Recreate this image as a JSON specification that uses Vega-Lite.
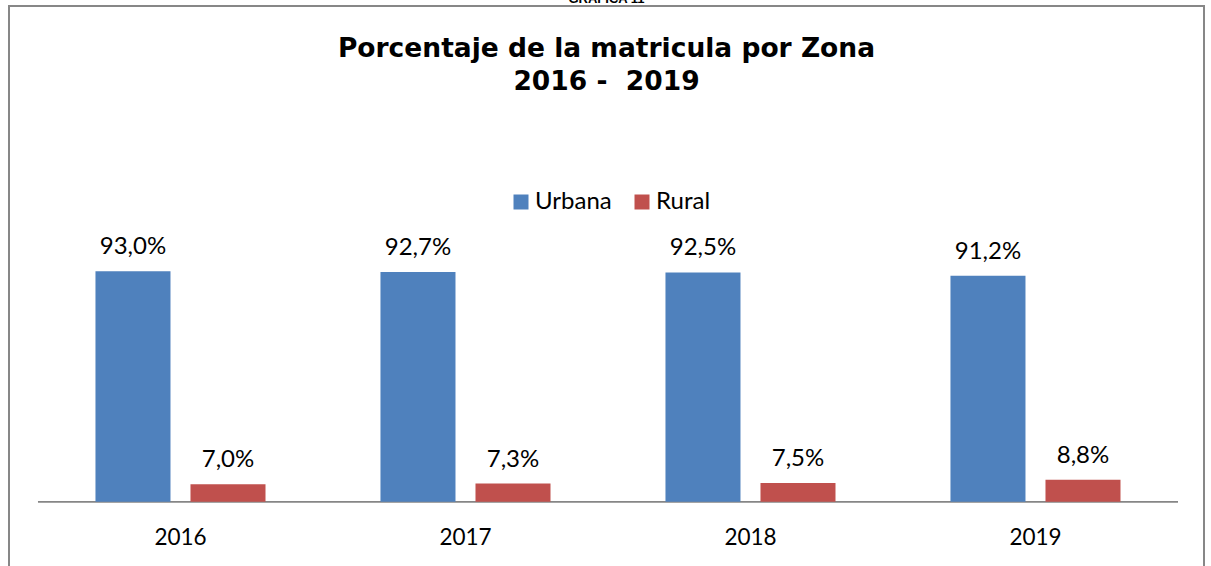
{
  "$schema": "https://vega.github.io/schema/vega-lite/v6.json",
  "width": 1195,
  "height": 570,
  "autosize": {"type": "none"},
  "padding": {"left": 9, "top": 6, "right": 7, "bottom": 0},
  "background": "white",
  "config": {
    "view": {"stroke": "#878787", "strokeWidth": 2},
    "font": "Lato",
    "locale": {"number": {"decimal": ",", "thousands": ".", "grouping": [3], "currency": ["", " €"]}}
  },
  "title": {
    "text": "GRAFICA 11",
    "subtitle": ["Porcentaje de la matricula por Zona", "2016 - \u00a02019"],
    "anchor": "middle",
    "frame": "group",
    "font": "Liberation Sans",
    "fontSize": 13,
    "fontWeight": "bold",
    "color": "black",
    "subtitleFont": "DejaVu Sans",
    "subtitleFontSize": 26.5,
    "subtitleFontWeight": "bold",
    "subtitleColor": "black",
    "subtitleLineHeight": 33,
    "subtitlePadding": 30,
    "offset": -89
  },
  "data": {
    "values": [
      {"year": "2016", "series": "Urbana", "value": 0.930},
      {"year": "2016", "series": "Rural", "value": 0.070},
      {"year": "2017", "series": "Urbana", "value": 0.927},
      {"year": "2017", "series": "Rural", "value": 0.073},
      {"year": "2018", "series": "Urbana", "value": 0.925},
      {"year": "2018", "series": "Rural", "value": 0.075},
      {"year": "2019", "series": "Urbana", "value": 0.912},
      {"year": "2019", "series": "Rural", "value": 0.088}
    ]
  },
  "encoding": {
    "x": {
      "field": "year",
      "type": "nominal",
      "scale": {"paddingInner": 0, "paddingOuter": 0.0965, "align": 0.527},
      "axis": {
        "orient": "bottom",
        "offset": -74,
        "domain": false,
        "ticks": false,
        "labelAngle": 0,
        "labelPadding": 24,
        "labelFont": "Lato",
        "labelFontSize": 22.5,
        "labelColor": "black",
        "title": null
      }
    }
  },
  "layer": [
    {
      "mark": {"type": "rect", "stroke": "#868686", "strokeWidth": 1.5, "fill": "#868686"},
      "encoding": {
        "y": {"datum": 0, "type": "quantitative", "scale": {"domain": [-0.3, 2.0], "nice": false, "zero": false}, "axis": null},
        "y2": {"datum": 0}
      }
    },
    {
      "mark": {"type": "bar"},
      "encoding": {
        "xOffset": {"field": "series", "type": "nominal", "scale": {"domain": ["Urbana", "Rural"], "paddingInner": 0.2105, "paddingOuter": 0.605}},
        "y": {"field": "value", "type": "quantitative"},
        "color": {
          "field": "series",
          "type": "nominal",
          "scale": {"domain": ["Urbana", "Rural"], "range": ["#4F81BD", "#C0504D"]},
          "legend": {
            "title": null,
            "orient": "none",
            "legendX": 500,
            "legendY": 184,
            "direction": "horizontal",
            "symbolType": "square",
            "symbolSize": 225,
            "symbolStrokeWidth": 0,
            "labelFont": "Lato",
            "labelFontSize": 24,
            "labelColor": "black",
            "labelOffset": 2,
            "columnPadding": 18
          }
        }
      }
    },
    {
      "mark": {"type": "text", "baseline": "alphabetic", "dy": -17, "fontSize": 24, "font": "Lato", "color": "black"},
      "encoding": {
        "xOffset": {"field": "series", "type": "nominal"},
        "y": {"field": "value", "type": "quantitative"},
        "text": {"field": "value", "type": "quantitative", "format": ".1%"}
      }
    }
  ]
}
